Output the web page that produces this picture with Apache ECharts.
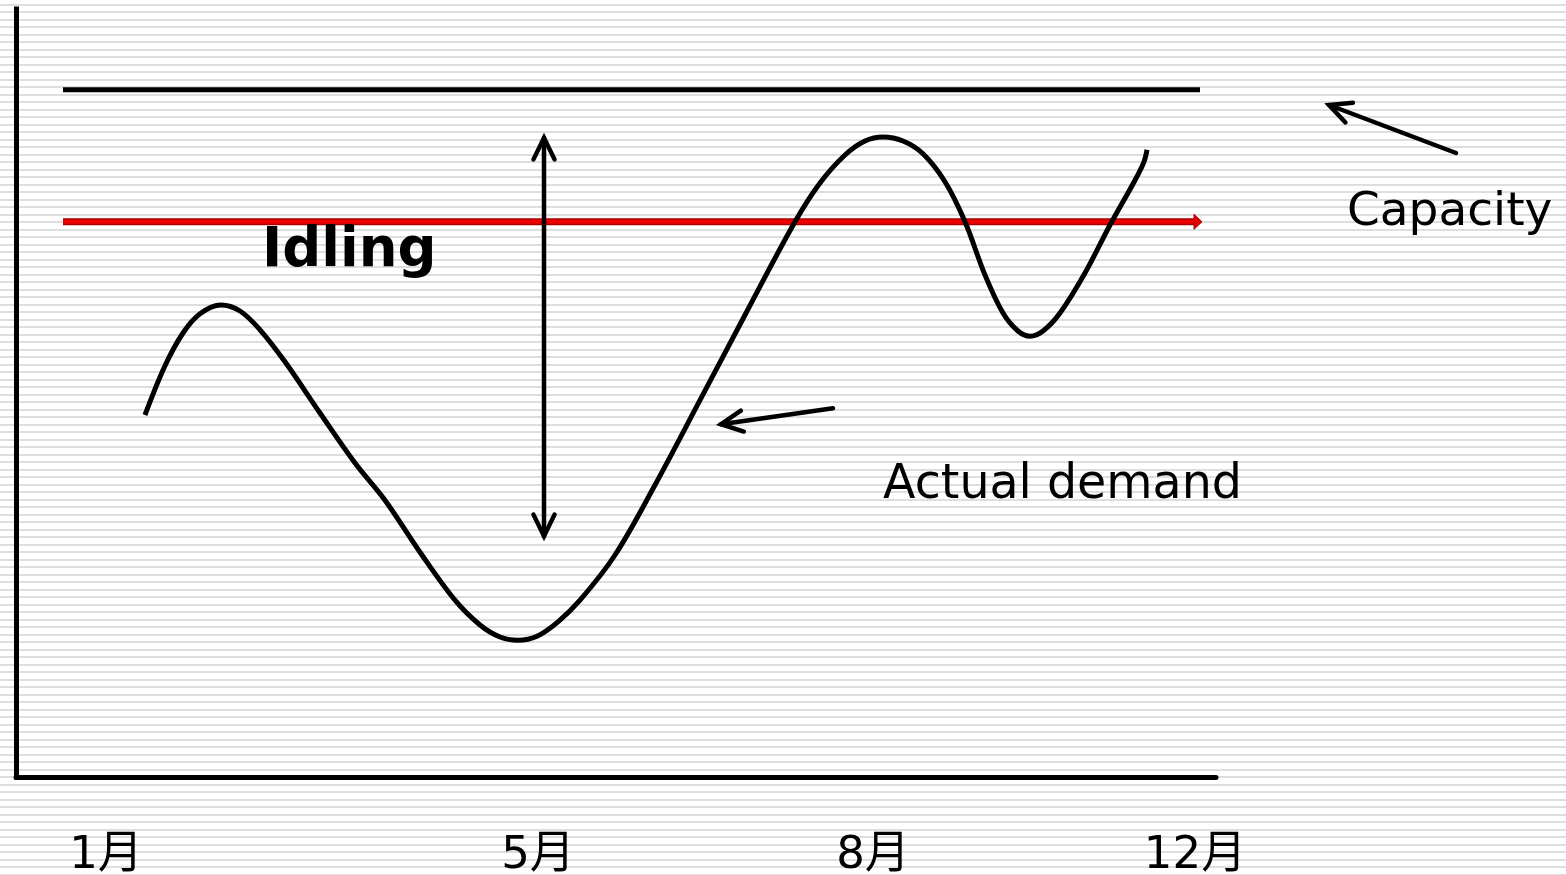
<!DOCTYPE html>
<html>
<head>
<meta charset="utf-8">
<script src="https://cdn.jsdelivr.net/npm/echarts@6/dist/echarts.min.js"></script>
<style>
  html, body { margin: 0; padding: 0; background: #fff; }
  #chart {
    width: 1566px;
    height: 875px;
    background: repeating-linear-gradient(to bottom,
      #ffffff 0px, #ffffff 4px, #dedede 4px, #dedede 6px, #ffffff 6px, #ffffff 7.5px);
  }
</style>
</head>
<body>
<div id="chart"></div>
<script>
// Month labels along the time axis and where they sit on it
const monthLabels = ['1月', '5月', '8月', '12月'];
const monthTicks = [9.0, 52.2, 85.7, 117.9];

// Actual demand curve (time, level)
const demandX = [12.9, 14.9, 16.7, 18.4, 20.5, 22.4, 24.4, 26.9, 30.4, 33.9, 36.9, 40.4, 43.9,
  46.4, 48.4, 50.2, 52.1, 54.2, 56.4, 59.9, 63.9, 68.4, 72.9, 77.9, 80.4, 82.9, 84.9, 86.7,
  88.7, 90.7, 92.9, 94.9, 96.9, 98.7, 100.2, 101.4, 102.7, 104.4, 106.9, 109.4, 111.9,
  112.8, 113.1];
const demandY = [45.25, 51.4, 55.5, 57.9, 59.0, 58.25, 55.9, 51.9, 45.5, 39.25, 34.6, 28.1, 22.1,
  19.0, 17.5, 17.1, 17.6, 19.4, 22.1, 27.75, 36.5, 47.1, 57.75, 69.4, 74.25, 77.75, 79.5, 80.0,
  79.5, 77.9, 74.4, 69.4, 62.75, 58.0, 55.75, 55.1, 55.75, 58.0, 63.0, 69.0, 74.6,
  76.9, 78.4];

// Capacity level and its extent in time
const capacityLevel = 85.9;
const capacitySpan = [4.7, 118.4];

// Red reference level with arrowhead (start, end, level)
const referenceArrow = [4.7, 118.6, 69.4];

// Pointer arrows: [fromX, fromY, toX, toY, doubleHeaded]
const idleRangeArrow = [52.8, 30.1, 52.8, 79.9, 1];
const capacityPointer = [144.0, 78.0, 131.3, 84.0, 0];
const demandPointer = [81.7, 46.1, 70.5, 44.1, 0];

const chart = echarts.init(document.getElementById('chart'), null, { renderer: 'canvas' });

function chevron(tip, from, len, ang) {
  const dx = from[0] - tip[0], dy = from[1] - tip[1];
  const d = Math.sqrt(dx * dx + dy * dy) || 1;
  const ux = dx / d, uy = dy / d;
  const c = Math.cos(ang), s = Math.sin(ang);
  const a1 = [tip[0] + len * (ux * c - uy * s), tip[1] + len * (ux * s + uy * c)];
  const a2 = [tip[0] + len * (ux * c + uy * s), tip[1] + len * (-ux * s + uy * c)];
  return [a1, tip, a2];
}

function renderPointer(params, api) {
  const a = api.coord([api.value(0), api.value(1)]);
  const b = api.coord([api.value(2), api.value(3)]);
  const both = api.value(4) === 1;
  const style = { stroke: '#000', lineWidth: 4.5, fill: null, lineJoin: 'miter', lineCap: 'round' };
  const children = [
    { type: 'line', shape: { x1: a[0], y1: a[1], x2: b[0], y2: b[1] }, style: style },
    { type: 'polyline', shape: { points: chevron(b, a, 24, 26 * Math.PI / 180) }, style: style }
  ];
  if (both) {
    children.push({ type: 'polyline', shape: { points: chevron(a, b, 24, 26 * Math.PI / 180) }, style: style });
  }
  return { type: 'group', children: children };
}

function renderReference(params, api) {
  const s = api.coord([api.value(0), api.value(2)]);
  const e = api.coord([api.value(1), api.value(2)]);
  const head = 8;
  const y = s[1];
  return {
    type: 'group',
    children: [
      { type: 'rect', shape: { x: s[0], y: y - 3.5, width: e[0] - head - s[0], height: 7 },
        style: { fill: '#a80000' } },
      { type: 'rect', shape: { x: s[0], y: y - 2, width: e[0] - head - s[0], height: 4 },
        style: { fill: '#ee0000' } },
      { type: 'polygon', shape: { points: [[e[0] - head, y - 7.5], [e[0], y], [e[0] - head, y + 7.5]] },
        style: { fill: '#e00000', stroke: '#a80000', lineWidth: 1 } }
    ]
  };
}

const option = {
  animation: false,
  grid: { left: 16, right: 350, top: 9, bottom: 98, containLabel: false, outerBoundsMode: 'none' },
  xAxis: {
    type: 'value',
    min: 0,
    max: 120,
    splitLine: { show: false },
    axisTick: { show: false },
    axisLine: { show: true, onZero: false, lineStyle: { color: '#000', width: 5 } },
    axisLabel: {
      customValues: monthTicks,
      formatter: function (v) {
        let best = 0;
        for (let i = 1; i < monthTicks.length; i++) {
          if (Math.abs(monthTicks[i] - v) < Math.abs(monthTicks[best] - v)) best = i;
        }
        return monthLabels[best];
      },
      margin: 57,
      verticalAlign: 'top',
      color: '#000',
      fontSize: 45,
      fontFamily: '"DejaVu Sans", "Noto Sans CJK JP", sans-serif',
      hideOverlap: false
    }
  },
  yAxis: {
    type: 'value',
    min: 0,
    max: 96,
    splitLine: { show: false },
    axisTick: { show: false },
    axisLabel: { show: false },
    axisLine: { show: true, onZero: false, lineStyle: { color: '#000', width: 5, cap: 'square' } }
  },
  series: [
    {
      name: 'Reference',
      type: 'custom',
      renderItem: renderReference,
      clip: false,
      z: 1,
      data: [referenceArrow]
    },
    {
      name: 'Capacity',
      type: 'line',
      symbol: 'none',
      z: 2,
      lineStyle: { color: '#000', width: 5 },
      data: [[capacitySpan[0], capacityLevel], [capacitySpan[1], capacityLevel]]
    },
    {
      name: 'Actual demand',
      type: 'line',
      symbol: 'none',
      smooth: 0.35,
      z: 3,
      lineStyle: { color: '#000', width: 5, cap: 'butt' },
      data: demandX.map(function (x, i) { return [x, demandY[i]]; })
    },
    {
      name: 'Pointers',
      type: 'custom',
      renderItem: renderPointer,
      clip: false,
      z: 4,
      encode: { x: [0, 2], y: [1, 3] },
      data: [idleRangeArrow, capacityPointer, demandPointer]
    }
  ],
  graphic: [
    { type: 'text', x: 1347, y: 213, z: 10,
      style: { text: 'Capacity', fill: '#000', font: '47px "DejaVu Sans"', verticalAlign: 'middle' } },
    { type: 'text', x: 883, y: 486, z: 10,
      style: { text: 'Actual demand', fill: '#000', font: '47.5px "DejaVu Sans"', verticalAlign: 'middle' } },
    { type: 'text', x: 262, y: 252, z: 10,
      style: { text: 'Idling', fill: '#000', font: 'bold 54.5px "DejaVu Sans"', verticalAlign: 'middle' } }
  ]
};

chart.setOption(option);
</script>
</body>
</html>
